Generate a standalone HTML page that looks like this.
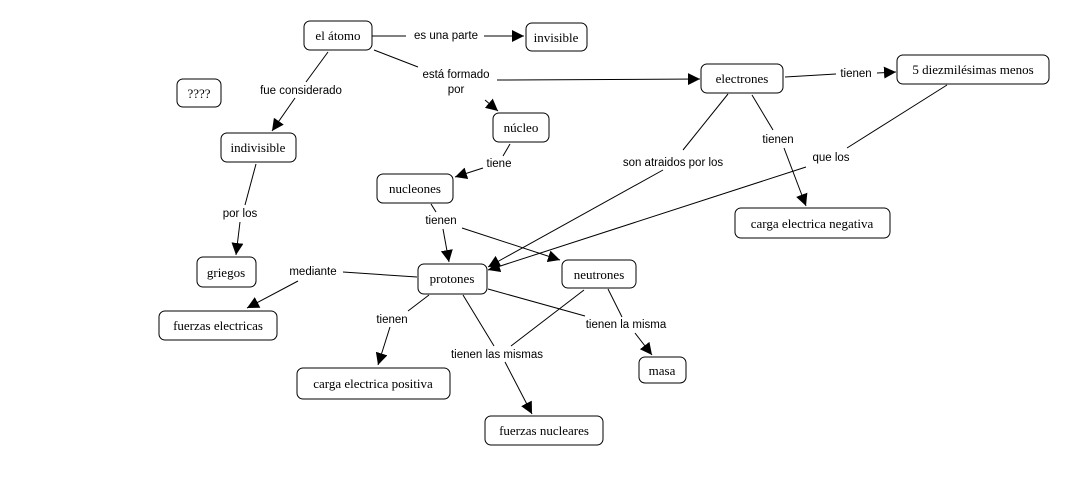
<!DOCTYPE html>
<html><head><meta charset="utf-8"><style>
html,body{margin:0;padding:0;background:#fff;}
svg{display:block;}
.n{fill:#fff;stroke:#000;stroke-width:1;}
.t{font-family:"Liberation Serif",serif;font-size:13px;fill:#000;text-anchor:middle;}
.l{font-family:"Liberation Sans",sans-serif;font-size:11.5px;fill:#000;text-anchor:middle;}
line{stroke:#000;stroke-width:1;}
</style></head><body>
<svg width="1089" height="486" viewBox="0 0 1089 486" xmlns="http://www.w3.org/2000/svg">
<defs><marker id="a" viewBox="0 0 10 10" refX="10" refY="5" markerWidth="12" markerHeight="12" markerUnits="userSpaceOnUse" orient="auto"><path d="M0,0 L10,5 L0,10 z" fill="#000"/></marker></defs>
<!-- lines -->
<line x1="372" y1="36" x2="406" y2="36"/><line x1="484" y1="36" x2="524" y2="36" marker-end="url(#a)"/>
<line x1="374" y1="50" x2="418" y2="67"/><line x1="497" y1="80" x2="700" y2="79" marker-end="url(#a)"/><line x1="485" y1="100" x2="498" y2="111" marker-end="url(#a)"/>
<line x1="328" y1="52" x2="306" y2="82"/><line x1="295" y1="98" x2="272" y2="131" marker-end="url(#a)"/>
<line x1="256" y1="164" x2="245" y2="205"/><line x1="240" y1="222" x2="236" y2="255" marker-end="url(#a)"/>
<line x1="510" y1="144" x2="503" y2="156"/><line x1="483" y1="168" x2="455" y2="177" marker-end="url(#a)"/>
<line x1="431" y1="204" x2="436" y2="212"/><line x1="443" y1="229" x2="449" y2="262" marker-end="url(#a)"/><line x1="462" y1="228" x2="560" y2="260" marker-end="url(#a)"/>
<line x1="417" y1="277" x2="343" y2="272"/><line x1="298" y1="281" x2="247" y2="308" marker-end="url(#a)"/>
<line x1="429" y1="295" x2="408" y2="311"/><line x1="390" y1="327" x2="378" y2="365" marker-end="url(#a)"/>
<line x1="463" y1="295" x2="494" y2="346"/><line x1="584" y1="290" x2="511" y2="346"/><line x1="505" y1="362" x2="532" y2="414" marker-end="url(#a)"/>
<line x1="488" y1="289" x2="585" y2="316"/><line x1="608" y1="289" x2="622" y2="317"/><line x1="635" y1="333" x2="652" y2="355" marker-end="url(#a)"/>
<line x1="728" y1="94" x2="683" y2="150"/><line x1="663" y1="170" x2="488" y2="267" marker-end="url(#a)"/>
<line x1="947" y1="85" x2="847" y2="148"/><line x1="806" y1="167" x2="488" y2="270" marker-end="url(#a)"/>
<line x1="752" y1="95" x2="773" y2="130"/><line x1="784" y1="148" x2="806" y2="206" marker-end="url(#a)"/>
<line x1="785" y1="77" x2="836" y2="74"/><line x1="877" y1="73" x2="896" y2="72" marker-end="url(#a)"/>
<!-- labels -->
<text class="l" x="446" y="39">es una parte</text>
<text class="l" x="456" y="78">está formado</text><text class="l" x="456" y="93">por</text>
<text class="l" x="301" y="94">fue considerado</text>
<text class="l" x="499" y="167">tiene</text>
<text class="l" x="441" y="224">tienen</text>
<text class="l" x="240" y="217">por los</text>
<text class="l" x="313" y="275">mediante</text>
<text class="l" x="392" y="323">tienen</text>
<text class="l" x="497" y="358">tienen las mismas</text>
<text class="l" x="626" y="328">tienen la misma</text>
<text class="l" x="673" y="166">son atraidos por los</text>
<text class="l" x="778" y="143">tienen</text>
<text class="l" x="831" y="161">que los</text>
<text class="l" x="856" y="77">tienen</text>
<!-- nodes -->
<rect class="n" x="304" y="21" width="68" height="29" rx="6"/><text class="t" x="338" y="40">el átomo</text>
<rect class="n" x="526" y="23" width="61" height="28" rx="6"/><text class="t" x="556" y="42">invisible</text>
<rect class="n" x="177" y="79" width="44" height="28" rx="6"/><text class="t" x="199" y="98">????</text>
<rect class="n" x="701" y="64" width="82" height="29" rx="6"/><text class="t" x="742" y="83">electrones</text>
<rect class="n" x="897" y="55" width="152" height="29" rx="6"/><text class="t" x="973" y="74">5 diezmilésimas menos</text>
<rect class="n" x="493" y="113" width="56" height="29" rx="6"/><text class="t" x="521" y="132">núcleo</text>
<rect class="n" x="221" y="133" width="75" height="29" rx="6"/><text class="t" x="258" y="152">indivisible</text>
<rect class="n" x="377" y="174" width="76" height="29" rx="6"/><text class="t" x="415" y="193">nucleones</text>
<rect class="n" x="735" y="208" width="155" height="30" rx="6"/><text class="t" x="812" y="228">carga electrica negativa</text>
<rect class="n" x="197" y="257" width="59" height="30" rx="6"/><text class="t" x="226" y="277">griegos</text>
<rect class="n" x="418" y="264" width="69" height="30" rx="6"/><text class="t" x="452" y="283">protones</text>
<rect class="n" x="562" y="260" width="74" height="28" rx="6"/><text class="t" x="599" y="279">neutrones</text>
<rect class="n" x="159" y="311" width="118" height="29" rx="6"/><text class="t" x="218" y="330">fuerzas electricas</text>
<rect class="n" x="297" y="368" width="153" height="31" rx="6"/><text class="t" x="373" y="388">carga electrica positiva</text>
<rect class="n" x="639" y="357" width="47" height="26" rx="6"/><text class="t" x="662" y="375">masa</text>
<rect class="n" x="485" y="416" width="118" height="29" rx="6"/><text class="t" x="544" y="435">fuerzas nucleares</text>
</svg>
</body></html>
